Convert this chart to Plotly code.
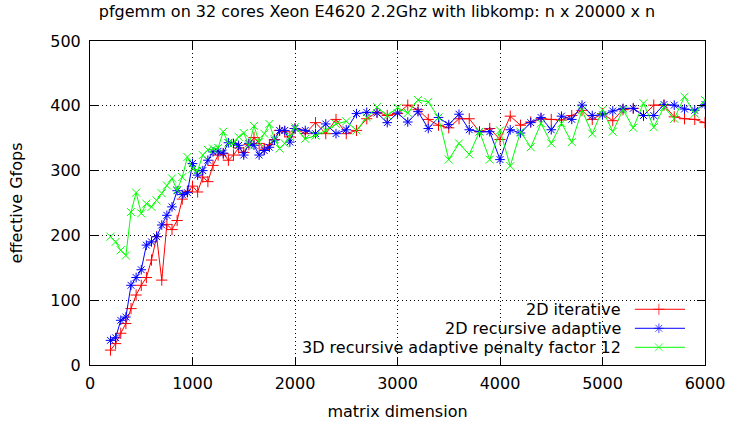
import plotly.graph_objects as go

# ---------------- data ----------------
x_values = list(range(200, 2001, 50)) + list(range(2100, 6001, 100))

iterative_2d = [
    23, 33, 49, 64, 87, 108, 123, 135, 162, 198, 131, 217, 209, 223, 256, 268, 276,
    267, 290, 283, 308, 324, 326, 316, 324, 335, 328, 340, 351, 342, 333, 340, 348,
    362, 360, 352, 365,
    357, 374, 357, 379, 357, 362, 380, 390, 385, 388, 401, 394, 379, 370, 366, 380,
    380, 360, 365, 348, 384, 370, 375, 380, 379, 378, 385, 393, 379, 388, 377, 394,
    396, 385, 401, 401, 383, 380, 379, 374,
]

recursive_adaptive_2d = [
    38, 42, 69, 74, 123, 135, 147, 185, 190, 198, 216, 231, 244, 269, 263, 266, 311,
    293, 300, 316, 329, 330, 327, 343, 342, 339, 324, 342, 339, 324, 331, 336, 347,
    362, 362, 344, 365,
    362, 357, 372, 357, 363, 388, 390, 389, 374, 389, 375, 391, 365, 382, 371, 387,
    363, 360, 360, 317, 363, 358, 374, 382, 363, 384, 379, 401, 385, 386, 392, 396,
    396, 385, 385, 402, 401, 395, 393, 402,
]

recursive_adaptive_3d = [
    198, 190, 177, 169, 236, 266, 234, 249, 244, 254, 265, 277, 288, 270, 290, 321, 303,
    300, 324, 332, 334, 335, 360, 342, 342, 352, 358, 339, 369, 344, 357, 372, 349,
    334, 342, 352, 367,
    349, 354, 362, 372, 376, 362, 382, 398, 385, 397, 389, 409, 406, 382, 317, 342,
    325, 360, 317, 362, 307, 360, 336, 373, 342, 373, 344, 393, 357, 394, 360, 394,
    366, 404, 367, 398, 380, 414, 388, 409,
]

series_names = [
    "2D iterative",
    "2D recursive adaptive",
    "3D recursive adaptive penalty factor 12",
]
series_values = [iterative_2d, recursive_adaptive_2d, recursive_adaptive_3d]
x_ticks = [0, 1000, 2000, 3000, 4000, 5000, 6000]
y_ticks = [0, 100, 200, 300, 400, 500]

title_text = "pfgemm on 32 cores Xeon E4620 2.2Ghz with libkomp: n x 20000 x n"
x_title = "matrix dimension"
y_title = "effective Gfops"

# ---------------- styles ----------------
colors = ["#ff0000", "#0000ff", "#00ff00"]
symbols = ["cross-thin", "asterisk", "x-thin"]
marker_sizes = [8, 8, 8]
FONT = "DejaVu Sans"

fig = go.Figure()

for name, vals, col, sym, ms in zip(series_names, series_values, colors, symbols, marker_sizes):
    fig.add_trace(go.Scatter(
        x=x_values, y=vals, name=name, mode="lines+markers",
        line=dict(color=col, width=1),
        marker=dict(symbol=sym, size=ms, color=col, line=dict(color=col, width=1)),
        showlegend=False,
    ))

# ---------------- custom gnuplot-style key (text left, sample right) ----------------
key_text_x = 0.8667
key_line_x = [0.886, 0.925, 0.9675]
key_rows = [0.172, 0.1133, 0.0546]
for name, col, sym, ms, ky in zip(series_names, colors, symbols, marker_sizes, key_rows):
    fig.add_annotation(
        x=key_text_x, y=ky, xref="paper", yref="paper", text=name,
        showarrow=False, xanchor="right", yanchor="middle",
        font=dict(family=FONT, size=16, color="black"),
    )
    fig.add_trace(go.Scatter(
        x=key_line_x, y=[ky] * 3, mode="lines+markers",
        xaxis="x2", yaxis="y2",
        line=dict(color=col, width=1),
        marker=dict(symbol=sym, size=[0, ms, 0], color=col, line=dict(color=col, width=1)),
        showlegend=False, hoverinfo="skip",
    ))

axis_common = dict(
    showline=True, linecolor="black", linewidth=1, mirror="allticks",
    ticks="inside", ticklen=8, tickcolor="black", tickwidth=1,
    showgrid=True, gridcolor="black", griddash="1px,3px", gridwidth=1,
    zeroline=False, automargin=False,
    tickfont=dict(family=FONT, size=16, color="black"),
)

fig.update_layout(
    width=729, height=421,
    margin=dict(l=90, r=24, t=41, b=56),
    paper_bgcolor="white", plot_bgcolor="white",
    font=dict(family=FONT, size=16, color="black"),
    title=dict(text=title_text, x=0.5171, xanchor="center", y=0.9727, yanchor="middle",
               font=dict(family=FONT, size=16, color="black")),
    xaxis=dict(range=[0, 6000], tickvals=x_ticks, ticktext=[str(v) for v in x_ticks],
               ticklabelstandoff=4,
               title=dict(text=x_title, font=dict(family=FONT, size=16, color="black"), standoff=14),
               **axis_common),
    yaxis=dict(range=[0, 500], tickvals=y_ticks, ticktext=[str(v) for v in y_ticks],
               ticklabelstandoff=5,
               title=dict(text=y_title, font=dict(family=FONT, size=16, color="black"), standoff=23),
               **axis_common),
    xaxis2=dict(range=[0, 1], domain=[0, 1], overlaying="x", visible=False, fixedrange=True),
    yaxis2=dict(range=[0, 1], domain=[0, 1], overlaying="y", visible=False, fixedrange=True),
    showlegend=False,
)

fig.write_html(
    "out.html",
    config={"displayModeBar": False},
    post_script="document.body.style.margin='0';document.body.style.overflow='hidden';",
)
